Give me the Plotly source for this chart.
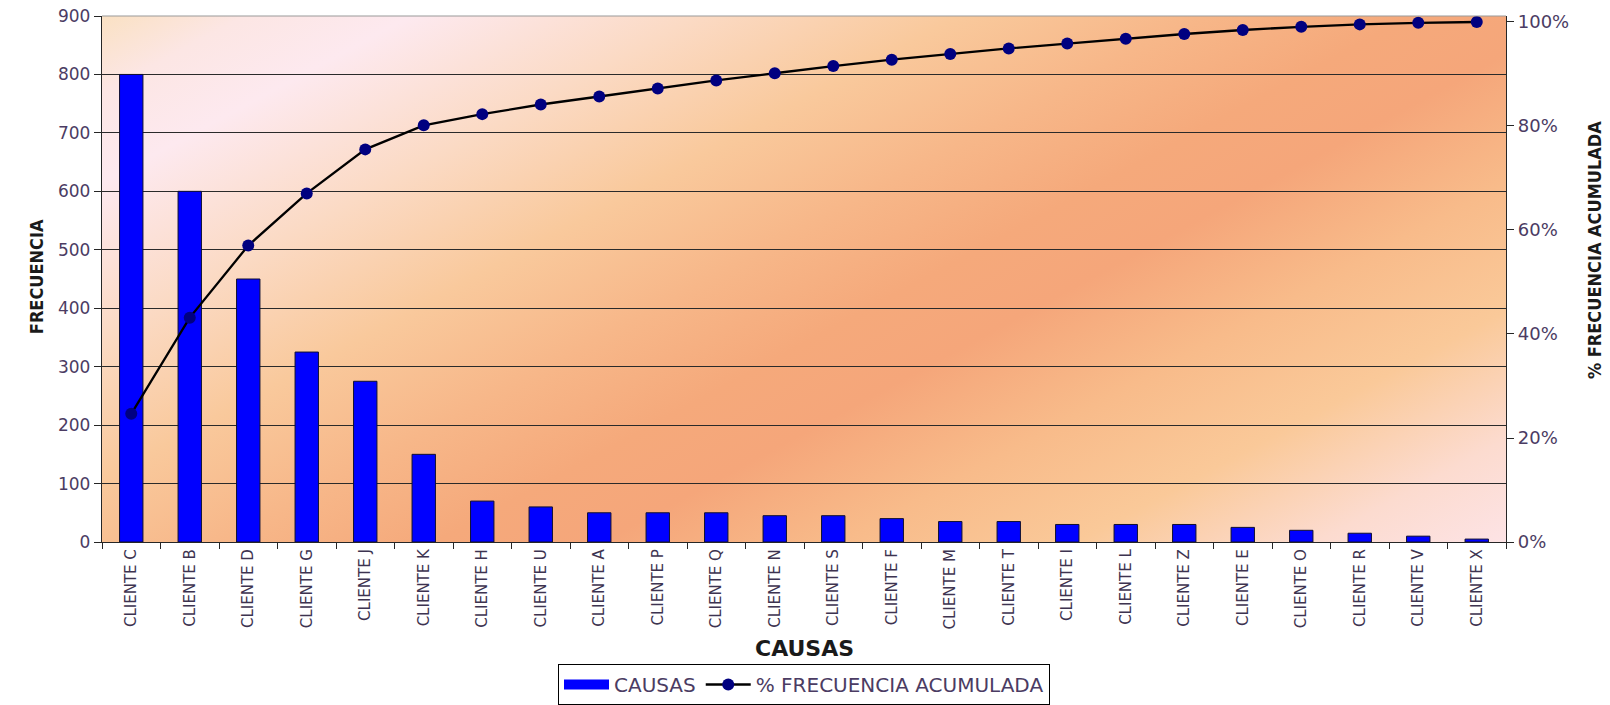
import base64
import numpy as np
import plotly.graph_objects as go

# Pareto data: customers sorted by frequency
clientes = ["CLIENTE C", "CLIENTE B", "CLIENTE D", "CLIENTE G", "CLIENTE J", "CLIENTE K",
            "CLIENTE H", "CLIENTE U", "CLIENTE A", "CLIENTE P", "CLIENTE Q", "CLIENTE N",
            "CLIENTE S", "CLIENTE F", "CLIENTE M", "CLIENTE T", "CLIENTE I", "CLIENTE L",
            "CLIENTE Z", "CLIENTE E", "CLIENTE O", "CLIENTE R", "CLIENTE V", "CLIENTE X"]
frecuencia = [800, 600, 450, 325, 275, 150, 70, 60, 50, 50, 50, 45,
              45, 40, 35, 35, 30, 30, 30, 25, 20, 15, 10, 5]

freq_ticks = list(range(0, 901, 100))
pct_ticks = [0, 0.2, 0.4, 0.6, 0.8, 1.0]
pct_labels = ["0%", "20%", "40%", "60%", "80%", "100%"]

# cumulative share of the total
acumulado = np.cumsum(frecuencia) / np.sum(frecuencia)

TXT = "#4b3c63"
AX = "#262626"
SANS = "DejaVu Sans, Liberation Sans, Arial, sans-serif"
NARROW = "Liberation Sans Narrow, Arial Narrow, DejaVu Sans Condensed, sans-serif"

# slanted gradient for the plotting area
stops = [
    (0.00, "#fae1c3"), (0.06, "#fce6e4"), (0.13, "#fde9ef"), (0.25, "#fbdac4"),
    (0.36, "#f9c99c"), (0.46, "#f7b789"), (0.55, "#f5a97b"), (0.62, "#f5a67a"),
    (0.72, "#f8bb8a"), (0.82, "#fac999"), (0.92, "#fcdbcf"), (1.00, "#fde3e5"),
]
stop_xml = "".join(f"<stop offset='{o}' stop-color='{c}'/>" for o, c in stops)
svg = ("<svg xmlns='http://www.w3.org/2000/svg' width='1404' height='526' viewBox='0 0 100 100' "
       "preserveAspectRatio='none'><defs><linearGradient id='g' x1='0' y1='0' x2='1.143' y2='0.794'>"
       f"{stop_xml}</linearGradient></defs><rect width='100' height='100' fill='url(#g)'/></svg>")
bg_uri = "data:image/svg+xml;base64," + base64.b64encode(svg.encode()).decode()

fig = go.Figure()

fig.add_trace(go.Bar(
    x=clientes, y=frecuencia, name="CAUSAS", width=0.4, showlegend=False,
    marker=dict(color="#0000ff", line=dict(color="#101030", width=1)),
))

# legend swatch for the bars (wide block)
fig.add_trace(go.Scatter(
    x=[None], y=[None], name="CAUSAS", mode="lines",
    line=dict(color="#0000ff", width=11),
))

fig.add_trace(go.Scatter(
    x=clientes, y=acumulado, name="% FRECUENCIA ACUMULADA", yaxis="y2",
    mode="lines+markers",
    line=dict(color="#000000", width=2.3),
    marker=dict(color="#000080", size=12),
))

fig.update_layout(
    width=1610, height=705,
    margin=dict(l=102, r=104, t=16, b=163),
    paper_bgcolor="white",
    plot_bgcolor="rgba(0,0,0,0)",
    images=[dict(source=bg_uri, xref="paper", yref="paper", x=0, y=1, sizex=1, sizey=1,
                 xanchor="left", yanchor="top", sizing="stretch", layer="below")],
    xaxis=dict(
        type="category", range=[-0.5, len(clientes) - 0.5], tickson="boundaries",
        ticks="outside", ticklen=6, automargin=False,
        tickcolor=AX, tickwidth=1.3, showline=True, linecolor=AX, linewidth=1.3,
        tickangle=-90, tickfont=dict(family=SANS, size=15, color="#3d3350"),
        showgrid=False,
    ),
    yaxis=dict(
        range=[0, 900], tickvals=freq_ticks, showgrid=True, gridcolor="#2a2a2a",
        gridwidth=1.2, showline=True, linecolor=AX, linewidth=1.3, ticks="outside",
        ticklen=7, tickcolor=AX, tickwidth=1.3, zeroline=False, automargin=False,
        tickfont=dict(family=SANS, size=17, color=TXT),
    ),
    yaxis2=dict(
        overlaying="y", side="right", range=[0, 1.0115], tickvals=pct_ticks,
        ticktext=pct_labels, showgrid=False, showline=True, linecolor=AX, linewidth=1.3,
        ticks="outside", ticklen=7, tickcolor=AX, tickwidth=1.3, zeroline=False,
        automargin=False, tickfont=dict(family=SANS, size=18, color=TXT),
    ),
    showlegend=True,
    legend=dict(
        orientation="h", x=0.5, xanchor="center", xref="paper",
        y=0, yanchor="bottom", yref="container",
        bgcolor="white", bordercolor="#000000", borderwidth=1,
        font=dict(family=SANS, size=20, color=TXT), itemwidth=45,
    ),
    annotations=[
        dict(text="<b>CAUSAS</b>", xref="paper", yref="paper", x=0.5, y=-0.203,
             xanchor="center", yanchor="middle", showarrow=False,
             font=dict(family=SANS, size=22, color="#1a1a1a")),
        dict(text="<b>FRECUENCIA</b>", xref="paper", yref="paper", x=-0.047, y=0.5035,
             xanchor="center", yanchor="middle", showarrow=False, textangle=-90,
             font=dict(family=NARROW, size=18, color="#1a1a1a")),
        dict(text="<b>% FRECUENCIA ACUMULADA</b>", xref="paper", yref="paper", x=1.0627,
             y=0.555, xanchor="center", yanchor="middle", showarrow=False, textangle=-90,
             font=dict(family=NARROW, size=18, color="#1a1a1a")),
    ],
    shapes=[dict(type="line", xref="paper", yref="paper", x0=0, x1=1, y0=1, y1=1,
                 line=dict(color="#9a9a9a", width=1.2), layer="above")],
)

fig.write_html("out.html")
